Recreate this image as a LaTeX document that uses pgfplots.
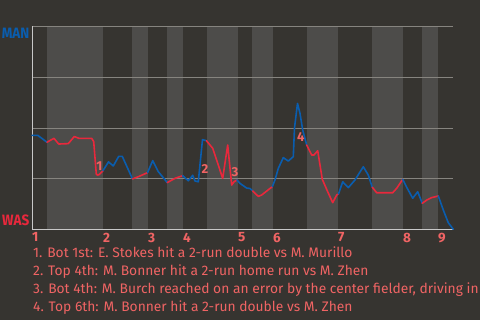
\documentclass[border=0pt]{standalone}
\usepackage{pgfplots}
\pgfplotsset{compat=1.18}
\usepackage{fontspec}
\setmainfont{Fira Sans}
\definecolor{bg}{HTML}{363430}
\definecolor{band}{HTML}{4D4C4A}
\definecolor{manblue}{HTML}{0A5DAE}
\definecolor{wasred}{HTML}{E8283C}
\definecolor{note}{HTML}{F06464}
\definecolor{gridc}{HTML}{86847F}
\definecolor{axc}{HTML}{C8C8C8}
\pagecolor{bg}
\begin{document}
\begin{tikzpicture}[x=1pt,y=1pt]
\path (0,0) rectangle (480,320);
\begin{axis}[
  set layers,
  at={(32pt,90.5pt)}, anchor=south west,
  scale only axis, width=421.3pt, height=203pt,
  xmin=32, xmax=453.3, ymin=0, ymax=100,
  axis x line=bottom, axis y line=left,
  axis line style={-, line width=0.9pt, color=axc},
  xtick={32,103,148,183,238,273,338,403,438},
  xticklabels={1,2,3,4,5,6,7,8,9},
  xticklabel style={anchor=north west, inner sep=0pt, yshift=-3pt,
     font=\bfseries\fontsize{13.5}{13.5}\selectfont, text=note},
  major tick length=0pt,
  ytick={25,50,75,100}, yticklabels={},
  ymajorgrids, grid style={gridc, line width=0.8pt},
  clip=false,
  every axis plot/.append style={line join=round, line cap=round},
]
% bottom half-innings shaded
\addplot[on layer=axis background, fill=band, draw=none] coordinates {(47,0) (47,100) (103,100) (103,0)} -- cycle;
\addplot[on layer=axis background, fill=band, draw=none] coordinates {(132,0) (132,100) (148,100) (148,0)} -- cycle;
\addplot[on layer=axis background, fill=band, draw=none] coordinates {(167,0) (167,100) (183,100) (183,0)} -- cycle;
\addplot[on layer=axis background, fill=band, draw=none] coordinates {(207,0) (207,100) (238,100) (238,0)} -- cycle;
\addplot[on layer=axis background, fill=band, draw=none] coordinates {(252,0) (252,100) (273,100) (273,0)} -- cycle;
\addplot[on layer=axis background, fill=band, draw=none] coordinates {(307,0) (307,100) (338,100) (338,0)} -- cycle;
\addplot[on layer=axis background, fill=band, draw=none] coordinates {(372,0) (372,100) (403,100) (403,0)} -- cycle;
\addplot[on layer=axis background, fill=band, draw=none] coordinates {(422,0) (422,100) (438,100) (438,0)} -- cycle;

% win probability (MAN), blue = top half, red = bottom half
\addplot[manblue, line width=1.6pt] coordinates {(32,46.4) (37.7,46.4) (47,43.0)};
\addplot[wasred, line width=1.6pt] coordinates {(47,43.0) (54,44.9) (58.7,42.1) (68.3,42.3) (74.3,45.8) (79,44.9) (91.7,44.9) (93.7,43.3) (96.3,27.3) (97.5,26.8) (99.3,27.1) (103,29.0)};
\addplot[manblue, line width=1.6pt] coordinates {(103,29.0) (108.5,33.3) (113.3,31.3) (118.7,36.0) (122.3,36.0) (132.5,24.9)};
\addplot[wasred, line width=1.6pt] coordinates {(132.5,24.9) (138.3,26.0) (147.5,28.0)};
\addplot[manblue, line width=1.6pt] coordinates {(147.5,28.0) (152.7,33.9) (158.3,28.5) (167.3,23.1)};
\addplot[wasred, line width=1.6pt] coordinates {(167.3,23.1) (175,25.2) (182.7,26.5)};
\addplot[manblue, line width=1.6pt] coordinates {(182.7,26.5) (188.3,24.0) (192.7,26.7) (195,23.9) (198.3,23.5) (202.5,44.3) (206.5,43.7)};
\addplot[wasred, line width=1.6pt] coordinates {(206.5,43.7) (212.7,40.0) (222.7,25.2) (227.7,41.6) (231.7,21.9) (234,23.5) (237,24.4)};
\addplot[manblue, line width=1.6pt] coordinates {(237,24.4) (240,22.7) (246.7,20.4) (250,20.2) (252.7,19.0)};
\addplot[wasred, line width=1.6pt] coordinates {(252.7,19.0) (258.3,16.3) (261.7,17.0) (272.3,21.1)};
\addplot[manblue, line width=1.6pt] coordinates {(272.3,21.1) (275,24.4) (278.3,30.1) (283.3,35.4) (288.3,33.7) (293.3,35.9) (294.5,50.0) (297.5,62.1) (300,57.2) (302.7,49.0) (306.7,41.6)};
\addplot[wasred, line width=1.6pt] coordinates {(306.7,41.6) (311.7,36.7) (314,36.7) (317.7,38.8) (322.3,24.7) (327.7,18.6) (332.7,13.2) (336.7,17.0) (338.5,17.5)};
\addplot[manblue, line width=1.6pt] coordinates {(338.5,17.5) (342.7,23.5) (348.3,20.6) (355,24.4) (363.3,30.9) (368.3,26.8) (372.3,20.8)};
\addplot[wasred, line width=1.6pt] coordinates {(372.3,20.8) (376.7,18.1) (392.7,18.1) (396.7,20.3) (402.7,24.7)};
\addplot[manblue, line width=1.6pt] coordinates {(402.7,24.7) (406.7,20.8) (412.7,15.4) (417.7,18.6) (422.3,12.9)};
\addplot[wasred, line width=1.6pt] coordinates {(422.3,12.9) (426.7,14.5) (431.7,15.7) (438.3,16.5)};
\addplot[manblue, line width=1.6pt] coordinates {(438.3,16.5) (443.3,9.6) (448.3,3.3) (453.3,0.1)};

% key-play markers
\node[text=note, font=\bfseries\fontsize{13}{13}\selectfont, inner sep=0pt] at (axis cs:99.3,31.3) {1};
\node[text=note, font=\bfseries\fontsize{13}{13}\selectfont, inner sep=0pt] at (axis cs:205,29.8) {2};
\node[text=note, font=\bfseries\fontsize{13}{13}\selectfont, inner sep=0pt] at (axis cs:235,28.5) {3};
\node[text=note, font=\bfseries\fontsize{13}{13}\selectfont, inner sep=0pt] at (axis cs:300.7,45.4) {4};
\end{axis}
\node[anchor=base east, inner sep=0pt, text=manblue, font=\bfseries\fontsize{15}{15}\selectfont] at (29.5,281.7) {\scalebox{0.9}[1]{MAN}};
\node[anchor=base east, inner sep=0pt, text=wasred, font=\bfseries\fontsize{15}{15}\selectfont] at (29.5,94.3) {\scalebox{0.9}[1]{WAS}};
\begin{scope}[every node/.style={anchor=base west, inner sep=0pt, text=note, font=\fontsize{13.8}{13.8}\selectfont}]
\node at (33,62.3) {1. Bot 1st: E. Stokes hit a 2-run double vs M. Murillo};
\node at (33,44.3) {2. Top 4th: M. Bonner hit a 2-run home run vs M. Zhen};
\node at (33,26.3) {3. Bot 4th: M. Burch reached on an error by the center fielder, driving in 2 runs};
\node at (33,8.3) {4. Top 6th: M. Bonner hit a 2-run double vs M. Zhen};
\end{scope}
\pgfresetboundingbox
\useasboundingbox (0,0) rectangle (480,320);
\end{tikzpicture}
\end{document}
